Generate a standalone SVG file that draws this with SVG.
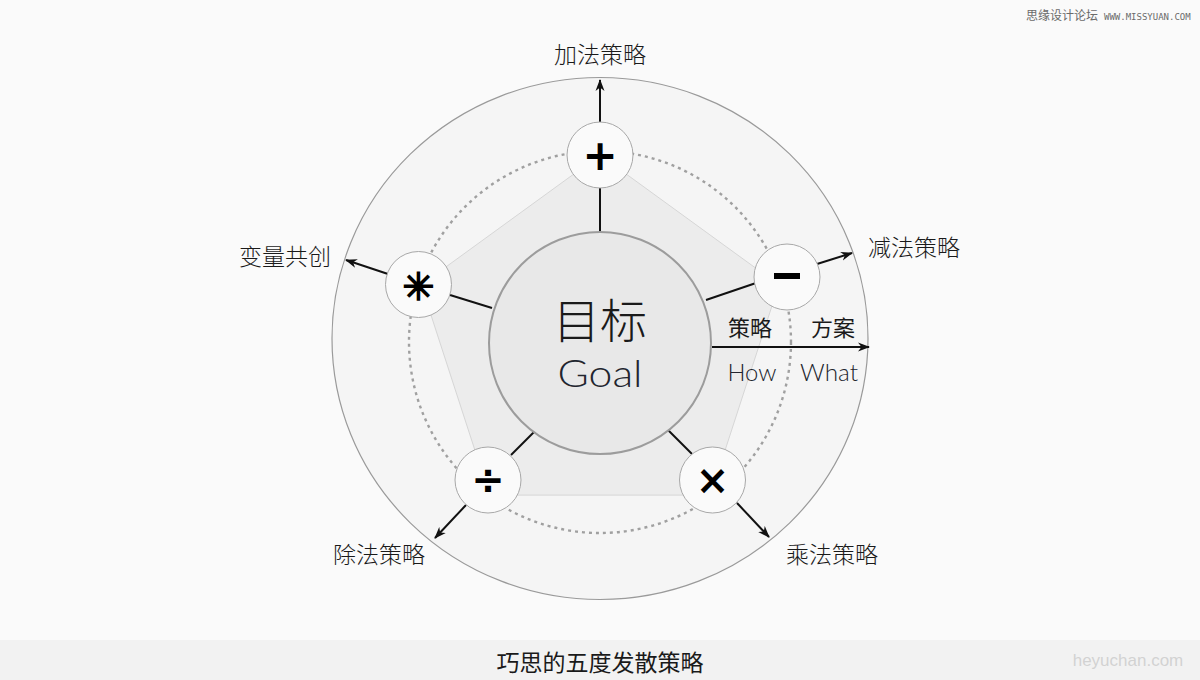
<svg xmlns="http://www.w3.org/2000/svg" width="1200" height="680" viewBox="0 0 1200 680">
<defs>
<marker id="arr" viewBox="0 0 12 10" refX="11" refY="5" markerWidth="12" markerHeight="10" markerUnits="userSpaceOnUse" orient="auto">
<path d="M0,0.5 L12,5 L0,9.5 L3.5,5 Z" fill="#111"/>
</marker>
<style>
.cn{font-family:"Noto Sans CJK SC","Noto Sans",sans-serif;fill:#1a1a1a;}
.lab{font-size:23px;font-weight:300;text-anchor:middle;}
.sym{font-family:"DejaVu Sans","Liberation Sans",sans-serif;fill:#000;text-anchor:middle;}
.node{fill:#fafafa;stroke:#a8a8a8;stroke-width:1;}
.con{stroke:#111;stroke-width:2;fill:none;}
.arw{stroke:#111;stroke-width:2;fill:none;marker-end:url(#arr);}
.en{font-family:"Lato","Open Sans",sans-serif;font-weight:300;fill:#22252e;}
</style>
</defs>
<rect width="1200" height="680" fill="#fafafa"/>
<g id="rings">
<ellipse cx="600" cy="338.5" rx="268" ry="261" fill="#f5f5f5" stroke="#9a9a9a" stroke-width="1.2"/>
<circle cx="600" cy="342" r="191" fill="none" stroke="#a0a0a0" stroke-width="2.4" stroke-dasharray="3 4"/>
<polygon points="600,155 778.8,284.9 710.5,495.1 489.5,495.1 421.2,284.9" fill="#ececec" stroke="#d6d6d6" stroke-width="1"/>
</g>
<g id="connectors">
<line class="con" x1="600" y1="232" x2="600" y2="188"/>
<line class="arw" x1="600" y1="122" x2="600" y2="80"/>
<line class="con" x1="706" y1="300" x2="756" y2="283"/>
<line class="arw" x1="817" y1="264" x2="852" y2="253"/>
<line class="con" x1="492" y1="308" x2="450" y2="295"/>
<line class="arw" x1="388" y1="274" x2="346" y2="260"/>
<line class="con" x1="537" y1="429" x2="511" y2="455"/>
<line class="arw" x1="466" y1="505" x2="435" y2="538"/>
<line class="con" x1="666" y1="428" x2="692" y2="454"/>
<line class="arw" x1="737" y1="503" x2="769" y2="537"/>
<line class="arw" x1="712" y1="347" x2="869" y2="347"/>
</g>
<g id="goal">
<circle cx="600" cy="343" r="111" fill="#e8e8e8" stroke="#9c9c9c" stroke-width="2"/>
<text class="cn" x="600" y="338" font-size="47" text-anchor="middle" font-weight="300">目标</text>
<text class="en" x="600" y="387" font-size="38" text-anchor="middle" textLength="85" lengthAdjust="spacingAndGlyphs">Goal</text>
</g>
<g id="node-add">
<circle class="node" cx="600" cy="155" r="33"/>
<text class="sym" x="600" y="170" font-size="42" font-weight="bold">+</text>
<text class="cn lab" x="600" y="63">加法策略</text>
</g>
<g id="node-sub">
<circle class="node" cx="787" cy="277" r="33"/>
<rect x="774" y="273" width="26" height="6" fill="#000"/>
<text class="cn lab" x="914" y="256">减法策略</text>
</g>
<g id="node-mul">
<circle class="node" cx="712.5" cy="480" r="33"/>
<text class="sym" x="712.5" y="494" font-size="40" font-weight="bold">×</text>
<text class="cn lab" x="832" y="563">乘法策略</text>
</g>
<g id="node-div">
<circle class="node" cx="488" cy="480" r="33"/>
<text class="sym" x="488" y="494" font-size="40" font-weight="bold">÷</text>
<text class="cn lab" x="379" y="563">除法策略</text>
</g>
<g id="node-cocreate">
<circle class="node" cx="418.5" cy="284.5" r="33"/>
<text class="sym" x="418.5" y="300" font-size="38" stroke="#000" stroke-width="1.6">✳</text>
<text class="cn lab" x="285" y="265">变量共创</text>
</g>
<g id="how-what">
<text class="cn" x="750" y="336" font-size="22" text-anchor="middle" font-weight="400">策略</text>
<text class="cn" x="833" y="336" font-size="22" text-anchor="middle" font-weight="400">方案</text>
<text class="en" x="752" y="381" font-size="23" text-anchor="middle" textLength="49" lengthAdjust="spacingAndGlyphs">How</text>
<text class="en" x="829" y="381" font-size="23" text-anchor="middle" textLength="58" lengthAdjust="spacingAndGlyphs">What</text>
</g>
<g id="footer">
<rect x="0" y="640" width="1200" height="40" fill="#f2f2f2"/>
<text class="cn" x="600" y="671" font-size="23" text-anchor="middle">巧思的五度发散策略</text>
<text x="1128" y="666" font-family="'Liberation Sans',sans-serif" font-size="17" fill="#d2d2d2" text-anchor="middle">heyuchan.com</text>
</g>
<g id="watermark">
<text x="1026" y="20" font-family="'Noto Sans CJK SC',sans-serif" font-size="12" fill="#6a6a6a">思缘设计论坛</text>
<text x="1104" y="20" font-family="'DejaVu Sans Mono',monospace" font-size="9" fill="#6a6a6a">WWW.MISSYUAN.COM</text>
</g>
</svg>
